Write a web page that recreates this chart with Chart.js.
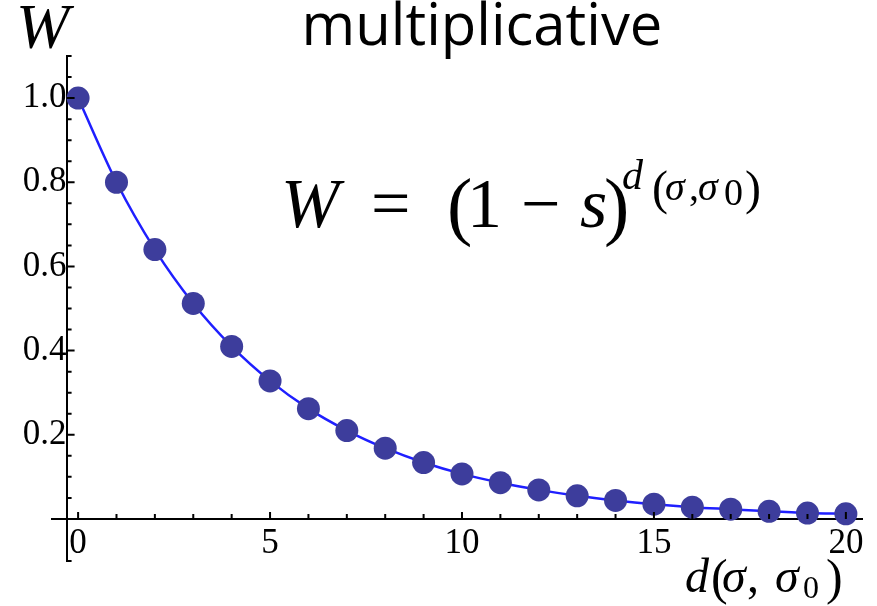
<!DOCTYPE html>
<html>
<head>
<meta charset="utf-8">
<script src="https://cdn.jsdelivr.net/npm/chart.js@4"></script>
<style>
  html, body { margin: 0; background: #fff; }
</style>
</head>
<body>
<canvas id="graf" width="877" height="606"></canvas>
<script>
// fitness W against distance d from the reference sequence
const distances = [0, 1, 2, 3, 4, 5, 6, 7, 8, 9, 10, 11, 12, 13, 14, 15, 16, 17, 18, 19, 20];
const fitness = [1.0, 0.8, 0.64, 0.512, 0.41, 0.328, 0.262, 0.21, 0.168, 0.134, 0.107,
                 0.086, 0.069, 0.055, 0.044, 0.035, 0.028, 0.023, 0.018, 0.014, 0.012];
const xTickLabels = [0, 5, 10, 15, 20];
const yTickLabels = [0.2, 0.4, 0.6, 0.8, 1.0];

const serif = "'Liberation Serif', 'DejaVu Serif', serif";
const graph = document.getElementById('graf');

// each piece: [text, italic, size, x, baseline]
function drawPieces(ctx, pieces) {
  for (const [text, italic, size, x, y] of pieces) {
    ctx.font = (italic ? 'italic ' : '') + size + 'px ' + serif;
    ctx.fillText(text, x, y);
  }
}

// Mathematica style inward ticks, plus the free text labels
const decorations = {
  id: 'decorations',
  afterDraw(chart) {
    const ctx = chart.ctx;
    const x = chart.scales.x, y = chart.scales.y;
    const yAxisPx = x.getPixelForValue(-0.3);
    const xAxisPx = y.getPixelForValue(0);
    ctx.save();
    ctx.strokeStyle = '#000';
    ctx.lineWidth = 2;
    ctx.beginPath();
    for (let d = 0; d <= 20; d++) {
      const px = x.getPixelForValue(d);
      const len = d % 5 === 0 ? 7 : 5;
      ctx.moveTo(px, xAxisPx);
      ctx.lineTo(px, xAxisPx - len);
    }
    for (let k = -2; k <= 22; k++) {
      if (k === -1 || k === 0) continue;
      const py = y.getPixelForValue(k * 0.05);
      const len = (k % 4 === 0 && k > 0 && k < 22) ? 8 : 5;
      ctx.moveTo(yAxisPx, py);
      ctx.lineTo(yAxisPx + len, py);
    }
    ctx.stroke();

    ctx.fillStyle = '#000';
    ctx.textBaseline = 'alphabetic';
    ctx.textAlign = 'center';
    ctx.font = "58px 'Open Sans', sans-serif";
    ctx.fillText('multiplicative', 482, 45);

    ctx.textAlign = 'left';
    ctx.font = 'italic 64px ' + serif;
    ctx.fillText('W', 16, 48);

    // axis label d(σ, σ0)
    drawPieces(ctx, [
      ['d', true, 48, 685, 592], ['(', false, 50, 711, 594], ['σ', true, 48, 722, 592],
      [',', false, 48, 747, 592], ['σ', true, 48, 775, 592], ['0', false, 32, 803, 598],
      [')', false, 50, 826, 594]
    ]);

    // W = (1 − s)^d(σ,σ0)
    drawPieces(ctx, [
      ['W', true, 70, 281, 227], ['=', false, 70, 371, 227], ['(', false, 76, 447, 231],
      ['1', false, 70, 467, 227], ['−', false, 70, 521, 227], ['s', true, 70, 580, 227],
      [')', false, 76, 604, 231],
      ['d', true, 42, 622, 189], ['(', false, 48, 652, 204], ['σ', true, 40, 665, 200],
      [',', false, 40, 689, 200], ['σ', true, 40, 698, 200], ['0', false, 38, 724, 205],
      [')', false, 48, 745, 204]
    ]);
    ctx.restore();
  }
};

new Chart(graph, {
  type: 'line',
  data: {
    datasets: [{
      data: distances.map((d, i) => ({ x: d, y: fitness[i] })),
      borderColor: '#1f1fff',
      borderWidth: 2.5,
      cubicInterpolationMode: 'monotone',
      pointRadius: 11.5,
      pointBorderWidth: 0,
      pointBackgroundColor: '#3d3d9c',
      clip: false
    }]
  },
  options: {
    responsive: false,
    devicePixelRatio: 1,
    animation: false,
    events: [],
    layout: { padding: { left: 52, right: 15, top: 56, bottom: 45 } },
    plugins: { legend: { display: false }, tooltip: { enabled: false } },
    scales: {
      x: {
        type: 'linear',
        min: -0.68,
        max: 20.42,
        position: { y: 0 },
        z: 1,
        grid: { display: false, drawTicks: false },
        border: { color: '#000', width: 2 },
        ticks: { color: '#000', font: { family: serif, size: 35 }, padding: 4, maxRotation: 0, autoSkip: false },
        afterBuildTicks: s => { s.ticks = xTickLabels.map(v => ({ value: v })); },
        afterFit: s => { s.height = 0; }
      },
      y: {
        type: 'linear',
        min: -0.1,
        max: 1.1,
        position: { x: -0.3 },
        z: 1,
        grid: { display: false, drawTicks: false },
        border: { color: '#000', width: 2 },
        ticks: { color: '#000', font: { family: serif, size: 35 }, padding: 5, autoSkip: false,
                 callback: v => v.toFixed(1) },
        afterBuildTicks: s => { s.ticks = yTickLabels.map(v => ({ value: v })); },
        afterFit: s => { s.width = 0; }
      }
    }
  },
  plugins: [decorations]
});
</script>
</body>
</html>
